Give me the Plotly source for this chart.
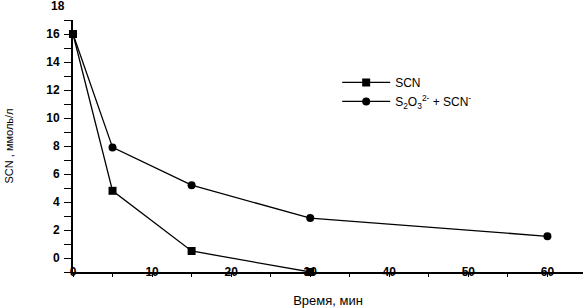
import plotly.graph_objects as go

time_scn = [0, 5, 15, 30]
scn = [16, 4.8, 0.5, -1]
time_mix = [0, 5, 15, 30, 60]
mix = [16, 7.9, 5.2, 2.85, 1.55]

x_tickvals = [0, 10, 20, 30, 40, 50, 60]
y_tickvals = [0, 2, 4, 6, 8, 10, 12, 14, 16]

name_scn = "SCN"
name_mix = "S<sub>2</sub>O<sub>3</sub><sup>2-</sup> + SCN<sup>-</sup>"

fig = go.Figure()
fig.add_trace(go.Scatter(x=time_scn, y=scn, mode="lines+markers", name=name_scn,
                         line=dict(color="black", width=1.3),
                         marker=dict(symbol="square", size=8, color="black"),
                         cliponaxis=False))
fig.add_trace(go.Scatter(x=time_mix, y=mix, mode="lines+markers", name=name_mix,
                         line=dict(color="black", width=1.3),
                         marker=dict(symbol="circle", size=8, color="black"),
                         cliponaxis=False))

fig.update_layout(
    width=584, height=308,
    margin=dict(l=73, r=1, t=20, b=36),
    paper_bgcolor="white", plot_bgcolor="white",
    font=dict(family="Liberation Sans, Arial", color="black"),
    showlegend=True,
    legend=dict(x=0.518, y=0.81, xanchor="left", yanchor="top",
                bgcolor="rgba(0,0,0,0)", font=dict(size=12),
                itemwidth=48, tracegroupgap=4),
    xaxis=dict(range=[0, 64.5], tickvals=x_tickvals, ticktext=[str(v) for v in x_tickvals],
               automargin=False,
               showgrid=False, zeroline=False, showline=True, linecolor="black", linewidth=2,
               ticks="outside", ticklen=3, tickcolor="black",
               minor=dict(dtick=5, ticks="outside", ticklen=3, tickcolor="black"),
               ticklabelstandoff=-15,
               tickfont=dict(size=12, weight="bold"),
               title=dict(text="Время, мин", font=dict(size=13), standoff=17)),
    yaxis=dict(range=[-1, 17], tickvals=y_tickvals, ticktext=[str(v) for v in y_tickvals],
               automargin=False,
               showgrid=False, zeroline=False, showline=True, linecolor="black", linewidth=2,
               ticks="outside", ticklen=7, tickcolor="black",
               minor=dict(dtick=1, ticks="outside", ticklen=7, tickcolor="black"),
               ticklabelstandoff=2,
               tickfont=dict(size=12, weight="bold"),
               title=dict(text="SCN , ммоль/л", font=dict(size=11), standoff=30)),
)
fig.add_annotation(x=0, xref="paper", xshift=-15, y=1 + 14 / 252, yref="paper", text="18",
                   showarrow=False, font=dict(size=12, weight="bold"), xanchor="center",
                   yanchor="middle")

fig.write_html("out.html", config={"displayModeBar": False},
               post_script="document.body.style.margin='0';")
